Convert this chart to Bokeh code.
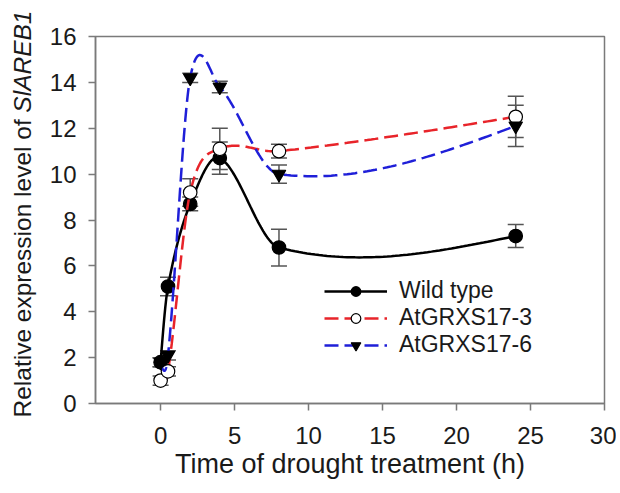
import numpy as np
from bokeh.plotting import figure
from bokeh.models import (ColumnDataSource, Whisker, TeeHead, Legend, LegendItem,
                          Range1d, FixedTicker)
from bokeh.core.properties import value
from bokeh.embed import file_html
from bokeh.resources import INLINE

# ---- data ----
hours = [0, 0.5, 2, 4, 8, 24]
wild_type = [1.8, 5.1, 8.7, 10.7, 6.8, 7.3]
wild_type_err = [0.2, 0.4, 0.3, 0.7, 0.8, 0.5]
grxs17_3 = [1.0, 1.4, 9.2, 11.1, 11.0, 12.5]
grxs17_3_err = [0.2, 0.2, 0.6, 0.9, 0.3, 0.9]
grxs17_6 = [1.8, 2.1, 14.2, 13.8, 10.0, 12.1]
grxs17_6_err = [0.2, 0.2, 0.2, 0.25, 0.4, 0.9]
series_names = ["Wild type", "AtGRXS17-3", "AtGRXS17-6"]
x_ticks = [0, 5, 10, 15, 20, 25, 30]
y_ticks = [0, 2, 4, 6, 8, 10, 12, 14, 16]
x_title = "Time of drought treatment (h)"
y_title_plain = "Relative expression level of "
y_title_gene = "SlAREB1"


def smooth_curve(xs, ys, per_seg=60):
    # cubic Hermite curve through the points (Catmull-Rom slopes, natural ends)
    x = np.asarray(xs, float)
    y = np.asarray(ys, float)
    n = len(x)
    d = np.diff(y) / np.diff(x)
    m = np.empty(n)
    m[1:-1] = (y[2:] - y[:-2]) / (x[2:] - x[:-2])
    m[0] = (3 * d[0] - m[1]) / 2
    m[-1] = (3 * d[-1] - m[-2]) / 2
    out_x, out_y = [], []
    for i in range(n - 1):
        h = x[i + 1] - x[i]
        s = np.linspace(0, 1, per_seg, endpoint=(i == n - 2))
        h00 = 2 * s ** 3 - 3 * s ** 2 + 1
        h10 = s ** 3 - 2 * s ** 2 + s
        h01 = -2 * s ** 3 + 3 * s ** 2
        h11 = s ** 3 - s ** 2
        out_x.append(x[i] + s * h)
        out_y.append(h00 * y[i] + h10 * h * m[i] + h01 * y[i + 1] + h11 * h * m[i + 1])
    return np.concatenate(out_x), np.concatenate(out_y)


FONT = "Liberation Sans"
TXT = "#1a1a1a"
X0, X1 = -4.4, 30
Y0, Y1 = 0, 16

p = figure(width=616, height=485, output_backend="svg", toolbar_location=None,
           x_range=Range1d(X0, X1), y_range=Range1d(Y0, Y1),
           min_border_left=95, min_border_right=12, min_border_top=36,
           min_border_bottom=82)
p.xgrid.visible = False
p.ygrid.visible = False
p.outline_line_color = "#7a7a7a"
p.outline_line_width = 1.5

for ax in (p.xaxis[0], p.yaxis[0]):
    ax.axis_line_color = "#7a7a7a"
    ax.axis_line_width = 1.5
    ax.major_tick_line_color = "#7a7a7a"
    ax.major_tick_line_width = 1.5
    ax.major_tick_out = 7
    ax.major_tick_in = 0
    ax.minor_tick_line_color = None
    ax.major_label_text_font = FONT
    ax.major_label_text_font_size = "24px"
    ax.major_label_text_color = TXT
    ax.axis_label_text_font = FONT
    ax.axis_label_text_font_size = "27px"
    ax.axis_label_text_font_style = "normal"
    ax.axis_label_text_color = TXT

p.xaxis.ticker = FixedTicker(ticks=x_ticks)
p.yaxis.ticker = FixedTicker(ticks=y_ticks)
p.xaxis.major_label_standoff = 16
p.yaxis.major_label_standoff = 12
p.xaxis.axis_label = x_title
p.xaxis.axis_label_standoff = 2

# rotated y title: plain part + italic gene name (drawn above the clip level)
px_x = (X1 - X0) / 509.0   # data units per pixel, horizontal
px_y = (Y1 - Y0) / 367.0   # data units per pixel, vertical
title_x = X0 - 73 * px_x
p.text(x=[title_x], y=[Y0 - 14 * px_y], text=[y_title_plain], angle=np.pi / 2,
       text_align="left", text_baseline="middle", text_font=value(FONT),
       text_font_size="24.5px", text_color=TXT, level="overlay")
p.text(x=[title_x], y=[Y1 + 26 * px_y], text=[y_title_gene], angle=np.pi / 2,
       text_align="right", text_baseline="middle", text_font=value(FONT),
       text_font_size="24.5px", text_font_style="italic", text_color=TXT,
       level="overlay")

styles = [
    dict(color="black", dash="solid", marker="circle", fill="black"),
    dict(color="#e8242a", dash="14 6", marker="circle", fill="white"),
    dict(color="#1f1fd8", dash="14 6", marker="inverted_triangle", fill="black"),
]
values = [wild_type, grxs17_3, grxs17_6]
errors = [wild_type_err, grxs17_3_err, grxs17_6_err]

items = []
for name, vals, errs, st in zip(series_names, values, errors, styles):
    xx, yy = smooth_curve(hours, vals)
    lr = p.line(xx, yy, line_color=st["color"], line_width=2.5, line_dash=st["dash"])
    src = ColumnDataSource(dict(x=hours, y=vals,
                                lo=[v - e for v, e in zip(vals, errs)],
                                hi=[v + e for v, e in zip(vals, errs)]))
    w = Whisker(source=src, base="x", lower="lo", upper="hi", dimension="height",
                line_color="#555555", line_width=1.5,
                lower_head=TeeHead(size=16, line_color="#555555", line_width=1.5),
                upper_head=TeeHead(size=16, line_color="#555555", line_width=1.5))
    p.add_layout(w)
    sr = p.scatter("x", "y", source=src, marker=st["marker"], size=13.5,
                   fill_color=st["fill"], line_color="black", line_width=1.2)
    items.append(LegendItem(label=name, renderers=[lr, sr]))

legend = Legend(items=items, location=(229, 45), glyph_width=63, glyph_height=24,
                label_text_font=FONT, label_text_font_size="23px",
                label_text_color=TXT, border_line_color=None,
                background_fill_alpha=0, spacing=0, padding=0, margin=0,
                label_standoff=12)
p.add_layout(legend)

open("out.html", "w").write(file_html(p, INLINE))
